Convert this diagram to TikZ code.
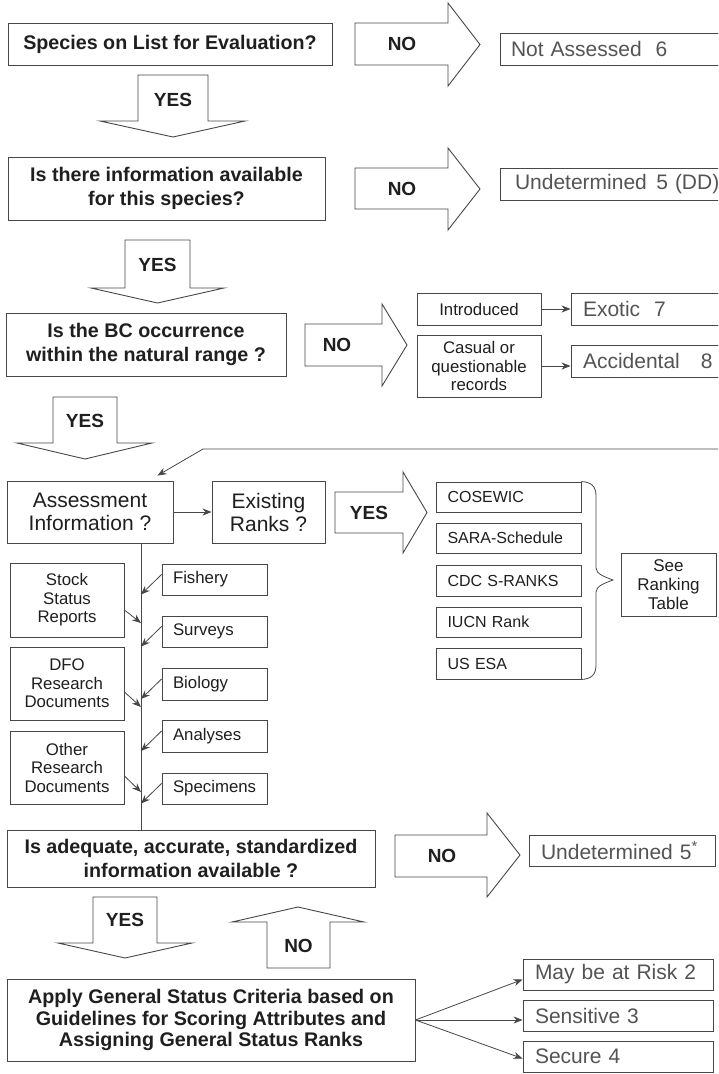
\documentclass[tikz,border=0pt]{standalone}
\usepackage{fontspec}
\setmainfont{Liberation Sans}
\usetikzlibrary{arrows.meta}
\definecolor{linecol}{rgb}{0.28,0.28,0.28}
\definecolor{txtcol}{rgb}{0.12,0.12,0.12}
\definecolor{outcol}{rgb}{0.33,0.33,0.33}
\tikzset{
 box/.style={draw=linecol,line width=0.9pt,inner sep=0pt,align=center,text=txtcol,fill=white},
 qf/.style={font=\fontsize{19.7}{24}\selectfont\bfseries},
 mf/.style={font=\fontsize{21}{23}\selectfont},
 sf/.style={font=\fontsize{16.8}{18.5}\selectfont},
 rf/.style={font=\fontsize{16}{18}\selectfont},
 seef/.style={font=\fontsize{17}{19}\selectfont},
 of/.style={font=\fontsize{21}{24}\selectfont,text=outcol},
 lab/.style={font=\fontsize{19}{22}\selectfont\bfseries,text=txtcol,inner sep=0pt},
 blk/.style={draw=linecol,line width=0.9pt,fill=white,line join=miter},
 arr/.style={draw=linecol,line width=0.8pt,-{Stealth[length=9pt,width=7pt]}},
 ln/.style={draw=linecol,line width=0.8pt},
}
\newcommand\bx[7][]{\node[box,minimum width={(#5-#3)*1pt},minimum height={(#6-#4)*1pt},#1] (#2) at ({(#3+#5)/2},{(#4+#6)/2}) {#7};}
\newcommand\lbx[8][]{\node[box,minimum width={(#5-#3)*1pt},minimum height={(#6-#4)*1pt},text width={(#5-#3-2*#7)*1pt},align=left,#1] (#2) at ({(#3+#5)/2},{(#4+#6)/2}) {#8};}
\begin{document}
\begin{tikzpicture}[x=1pt,y=-1pt]
\useasboundingbox (0,0) rectangle (718,1074);
\fill[white] (0,0) rectangle (718,1074);
\clip (0,0) rectangle (718,1074);

% ---------- Row 1
\bx[qf]{q1}{8}{23}{332}{65}{Species on List for Evaluation?}
\draw[blk] (355,23) -- (448,23) -- (448,3) -- (480,44.5) -- (448,86) -- (448,65) -- (355,65) -- cycle;
\node[lab] (no1) at (402,44) {NO};
\lbx[of]{o1}{500}{33}{740}{65}{11}{Not Assessed\ \ 6}

\draw[blk] (138,75) -- (208,75) -- (208,121) -- (245,121) -- (173,137) -- (100,121) -- (138,121) -- cycle;
\node[lab] (yes1) at (173,100) {YES};

% ---------- Row 2
\bx[qf]{q2}{8}{157}{325}{220}{Is there information available\\for this species?}
\draw[blk] (355,168) -- (448,168) -- (448,148) -- (480,189) -- (448,230) -- (448,209) -- (355,209) -- cycle;
\node[lab] (no2) at (402,189) {NO};
\lbx[of]{o2}{500}{168}{740}{200}{15}{Undetermined\hspace{0.45em}5 (DD)}

\draw[blk] (125,240) -- (190,240) -- (190,288) -- (224,288) -- (157.5,303) -- (91,288) -- (125,288) -- cycle;
\node[lab] (yes2) at (157.5,265) {YES};

% ---------- Row 3
\bx[qf]{q3}{6}{313}{286}{376}{Is the BC occurrence\\within the natural range ?}
\draw[blk] (305,324) -- (382,324) -- (382,304) -- (407,345) -- (382,386) -- (382,366) -- (305,366) -- cycle;
\node[lab] (no3) at (337,345) {NO};
\bx[sf]{intro}{417}{293}{541}{325}{Introduced}
\bx[sf]{casual}{417}{335}{541}{397}{Casual or\\questionable\\records}
\lbx[of]{exotic}{571}{293}{760}{325}{12}{Exotic\ \ 7}
\lbx[of]{accid}{571}{345}{760}{377}{12}{Accidental\ \ \ 8}
\draw[arr] (intro) -- (exotic);
\draw[arr] (casual.east) -- (casual.east -| accid.west);

\draw[blk] (53,397) -- (117,397) -- (117,443) -- (152,443) -- (85,459) -- (17,443) -- (53,443) -- cycle;
\node[lab] (yes3) at (85,421) {YES};

% ---------- Row 4
\bx[mf]{assess}{7}{481}{173}{543}{Assessment\\Information ?}
\bx[mf]{exist}{212}{481}{325}{543}{Existing\\Ranks ?}
\draw[arr] (assess) -- (exist);

\coordinate (fb0) at (730,449);
\coordinate (fb1) at (203,449);
\draw[arr] (fb0) -- (fb1) -- ([xshift=-16pt,yshift=5pt]assess.north east);

\draw[blk] (335,492) -- (403,492) -- (403,472) -- (427,512.5) -- (403,553) -- (403,533) -- (335,533) -- cycle;
\node[lab] (yes4) at (369,512.5) {YES};

\lbx[rf]{cosewic}{436}{482}{581}{512}{11.5}{COSEWIC}
\lbx[rf]{sara}{436}{523}{581}{553}{11.5}{SARA-Schedule}
\lbx[rf]{cdc}{436}{565}{581}{596}{11.5}{CDC S-RANKS}
\lbx[rf]{iucn}{436}{607}{581}{637}{11.5}{IUCN Rank}
\lbx[rf]{usesa}{436}{648}{581}{679}{11.5}{US ESA}
\coordinate (bracetip) at (613,580);
\draw[ln] (cosewic.north east) .. controls (591,482) and (596,486) .. (596,496) -- (596,568) .. controls (596,574) and (605,577) .. (bracetip) .. controls (605,583) and (596,586) .. (596,592) -- (596,665) .. controls (596,675) and (591,679) .. (usesa.south east);
\bx[seef]{see}{621}{553}{716}{616}{See\\Ranking\\Table}

% ---------- Left column
\coordinate (spine) at (141,0);
\bx[qf]{adeq}{7}{830}{375}{887}{Is adequate, accurate, standardized\\information available ?}
\draw[ln] (assess.south -| spine) -- (adeq.north -| spine);
\bx[sf]{stock}{10}{563}{124}{637}{Stock\\Status\\Reports}
\bx[sf]{dfo}{10}{647}{124}{720}{DFO\\Research\\Documents}
\bx[sf]{other}{10}{731}{124}{804}{Other\\Research\\Documents}
\draw[arr] ([yshift=-10pt]stock.east) -- ([yshift=-23pt]stock.east -| spine);
\draw[arr] ([yshift=-8.5pt]dfo.east) -- ([yshift=-23.5pt]dfo.east -| spine);
\draw[arr] ([yshift=-8.5pt]other.east) -- ([yshift=-24.5pt]other.east -| spine);

\lbx[sf]{fish}{162}{564}{267}{595}{11}{Fishery}
\lbx[sf]{surv}{162}{616}{267}{647}{11}{Surveys}
\lbx[sf]{bio}{162}{668}{267}{700}{11}{Biology}
\lbx[sf]{anal}{162}{720}{267}{752}{11}{Analyses}
\lbx[sf]{spec}{162}{773}{267}{804}{11}{Specimens}
\foreach \b in {fish,surv,bio,anal,spec}
  \draw[arr] ([yshift=5pt]\b.west) -- ([yshift=-15pt]\b.west -| spine);

% ---------- Row 5
\draw[blk] (395,835) -- (487,835) -- (487,813) -- (520,855) -- (487,897) -- (487,877) -- (395,877) -- cycle;
\node[lab] (no5) at (442,856) {NO};
\lbx[of]{o5}{529}{835}{715}{866}{12}{Undetermined 5\textsuperscript{*}}

\draw[blk] (93,897) -- (157,897) -- (157,943) -- (192,943) -- (125,958) -- (58,943) -- (93,943) -- cycle;
\node[lab] (yes5) at (125,920) {YES};
\draw[blk] (267,968) -- (330,968) -- (330,922) -- (364,922) -- (298,907) -- (232,922) -- (267,922) -- cycle;
\node[lab] (noup) at (298.5,946) {NO};

% ---------- Row 6
\bx[font=\fontsize{19.7}{21.5}\selectfont\bfseries]{apply}{7}{979}{415}{1061}{Apply General Status Criteria based on\\Guidelines for Scoring Attributes and\\Assigning General Status Ranks}
\lbx[of]{risk}{523}{959}{713}{990}{12}{May be at Risk 2}
\lbx[of]{sens}{523}{1000}{713}{1031}{12}{Sensitive 3}
\lbx[of]{secure}{523}{1041}{713}{1072}{12}{Secure 4}
\draw[arr] (apply.east) -- ([yshift=-5pt]risk.west);
\draw[arr] (apply.east) -- (apply.east -| sens.west);
\draw[arr] (apply.east) -- ([yshift=-2pt]secure.west);
\end{tikzpicture}
\end{document}
